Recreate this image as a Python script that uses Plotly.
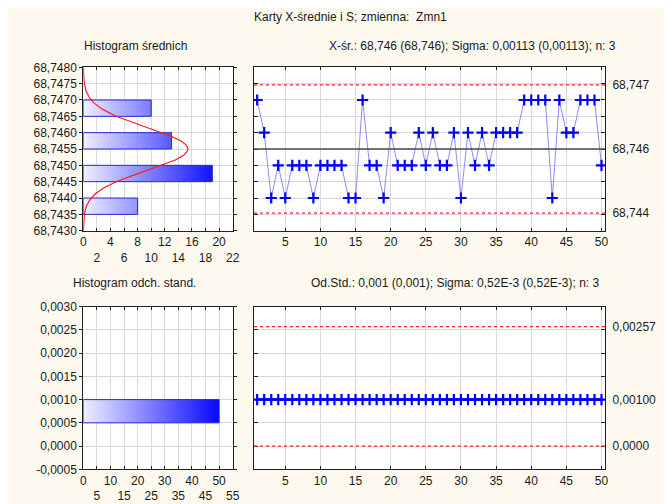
import numpy as np
import plotly.graph_objects as go

# ---------------- data ----------------
samples = list(range(1, 51))
xbar_values = [68.747, 68.746, 68.744, 68.745, 68.744, 68.745, 68.745, 68.745, 68.744, 68.745,
               68.745, 68.745, 68.745, 68.744, 68.744, 68.747, 68.745, 68.745, 68.744, 68.746,
               68.745, 68.745, 68.745, 68.746, 68.745, 68.746, 68.745, 68.745, 68.746, 68.744,
               68.746, 68.745, 68.746, 68.745, 68.746, 68.746, 68.746, 68.746, 68.747, 68.747,
               68.747, 68.747, 68.744, 68.747, 68.746, 68.746, 68.747, 68.747, 68.747, 68.745]
xbar_center = 68.7455
xbar_ucl = 68.74746
xbar_lcl = 68.74354
xbar_limit_vals = [xbar_ucl, xbar_center, xbar_lcl]
xbar_limit_text = ["68,747", "68,746", "68,744"]

sd_values = [0.001] * 50
sd_center = 0.001
sd_ucl = 0.00257
sd_lcl = 0.0
sd_limit_vals = [sd_ucl, sd_center, sd_lcl]
sd_limit_text = ["0,00257", "0,00100", "0,0000"]

mean_bin_low = [68.7435, 68.7445, 68.7455, 68.7465]
mean_bin_high = [68.7440, 68.7450, 68.7460, 68.7470]
mean_counts = [8, 19, 13, 10]

sd_bin_low = [0.0005]
sd_bin_high = [0.0010]
sd_counts = [50]

curve_mean = 68.7455
curve_sigma = 0.00066
curve_peak = 15.4

mean_y_ticks = [68.7430, 68.7435, 68.7440, 68.7445, 68.7450, 68.7455, 68.7460, 68.7465, 68.7470, 68.7475, 68.7480]
mean_y_labels = ["68,7430", "68,7435", "68,7440", "68,7445", "68,7450", "68,7455",
                 "68,7460", "68,7465", "68,7470", "68,7475", "68,7480"]
mean_x_ticks = [0, 2, 4, 6, 8, 10, 12, 14, 16, 18, 20, 22]
mean_x_labels = ["0", "<br>2", "4", "<br>6", "8", "<br>10", "12", "<br>14", "16", "<br>18", "20", "<br>22"]

sd_y_ticks = [-0.0005, 0.0, 0.0005, 0.0010, 0.0015, 0.0020, 0.0025, 0.0030]
sd_y_labels = ["-0,0005", "0,0000", "0,0005", "0,0010", "0,0015", "0,0020", "0,0025", "0,0030"]
sd_x_ticks = [0, 5, 10, 15, 20, 25, 30, 35, 40, 45, 50, 55]
sd_x_labels = ["0", "<br>5", "10", "<br>15", "20", "<br>25", "30", "<br>35", "40", "<br>45", "50", "<br>55"]

sample_ticks = [5, 10, 15, 20, 25, 30, 35, 40, 45, 50]

# ---------------- styling ----------------
W, H = 672, 504
OFF = 8  # page offset of the figure in the screenshot
BG = "#FEF9EE"
GRID = "#D9D9D9"
FONT = "Arial, 'Liberation Sans', sans-serif"
BLUE = "#0000FF"

def px_x(a, b):
    return [(a - OFF) / W, (b - OFF) / W]

def px_y(top, bottom):
    return [1 - (bottom - OFF) / H, 1 - (top - OFF) / H]

fig = go.Figure()

# --- histogram of means (bars with horizontal gradient) ---
for lo, hi, c in zip(mean_bin_low, mean_bin_high, mean_counts):
    fig.add_trace(go.Scatter(
        x=[0, c, c, 0, 0], y=[lo, lo, hi, hi, lo], mode="lines", fill="toself",
        fillgradient=dict(type="horizontal", colorscale=[[0, "#F0F0FF"], [1, "#0606FF"]],
                          start=0, stop=20),
        line=dict(color="#2626D6", width=1), xaxis="x", yaxis="y",
        hoverinfo="skip", showlegend=False))

yy = np.linspace(68.7430, 68.7480, 300)
xx = curve_peak * np.exp(-0.5 * ((yy - curve_mean) / curve_sigma) ** 2)
fig.add_trace(go.Scatter(x=xx, y=yy, mode="lines", line=dict(color="#FF1A1A", width=1.2),
                         xaxis="x", yaxis="y", showlegend=False))

# --- X-bar chart ---
fig.add_trace(go.Scatter(x=samples, y=xbar_values, mode="lines",
                         line=dict(color="rgba(70,70,255,0.7)", width=0.9),
                         xaxis="x2", yaxis="y2", showlegend=False))
fig.add_trace(go.Scatter(x=samples, y=xbar_values, mode="markers",
                         marker=dict(symbol="cross-thin", size=8,
                                     line=dict(color=BLUE, width=2.2)),
                         xaxis="x2", yaxis="y2", showlegend=False))
fig.add_trace(go.Scatter(x=[samples[0]], y=[xbar_center], mode="markers",
                         marker=dict(opacity=0), xaxis="x2", yaxis="y5",
                         showlegend=False, hoverinfo="skip"))

# --- histogram of std devs ---
for lo, hi, c in zip(sd_bin_low, sd_bin_high, sd_counts):
    fig.add_trace(go.Scatter(
        x=[0, c, c, 0, 0], y=[lo, lo, hi, hi, lo], mode="lines", fill="toself",
        fillgradient=dict(type="horizontal", colorscale=[[0, "#F0F0FF"], [1, "#0606FF"]],
                          start=0, stop=50),
        line=dict(color="#2626D6", width=1), xaxis="x3", yaxis="y3",
        hoverinfo="skip", showlegend=False))

# --- S chart ---
fig.add_trace(go.Scatter(x=samples, y=sd_values, mode="lines+markers",
                         line=dict(color=BLUE, width=2.5),
                         marker=dict(symbol="cross-thin", size=8,
                                     line=dict(color=BLUE, width=2.2)),
                         xaxis="x4", yaxis="y4", showlegend=False))
fig.add_trace(go.Scatter(x=[samples[0]], y=[sd_center], mode="markers",
                         marker=dict(opacity=0), xaxis="x4", yaxis="y6",
                         showlegend=False, hoverinfo="skip"))

# control lines
shapes = []
for xr, yr, val, col, dash, w in [
    ("x2 domain", "y2", xbar_center, "#4A4A4A", "solid", 1.5),
    ("x2 domain", "y2", xbar_ucl, "#FF2020", "dot", 1.3),
    ("x2 domain", "y2", xbar_lcl, "#FF2020", "dot", 1.3),
    ("x4 domain", "y4", sd_ucl, "#FF2020", "dot", 1.3),
    ("x4 domain", "y4", sd_lcl, "#FF2020", "dot", 1.3),
]:
    shapes.append(dict(type="line", xref=xr, yref=yr, x0=0, x1=1, y0=val, y1=val,
                       line=dict(color=col, width=w, dash=dash)))

tick_font = dict(family=FONT, size=12, color="#1A1A1A")
frame = dict(showline=True, linecolor="#202020", linewidth=1, mirror="ticks",
             gridcolor=GRID, gridwidth=1, zeroline=False, tickfont=tick_font,
             tickcolor="#202020", automargin=False)

left_dom = px_x(83.3, 232.7)
right_dom = px_x(254, 605)
top_dom = px_y(67.3, 230.7)
bot_dom = px_y(306.7, 469.3)

fig.update_layout(
    width=W, height=H, margin=dict(l=0, r=0, t=0, b=0, autoexpand=False),
    paper_bgcolor=BG, plot_bgcolor="white", font=dict(family=FONT, size=12, color="#1A1A1A"),
    showlegend=False, shapes=shapes,
    xaxis=dict(domain=left_dom, anchor="y", range=[0, 22], tickmode="array",
               tickvals=mean_x_ticks, ticktext=mean_x_labels, ticks="inside", ticklen=3,
               tickangle=0, **frame),
    yaxis=dict(domain=top_dom, anchor="x", range=[68.7430, 68.7480], tickmode="array",
               tickvals=mean_y_ticks, ticktext=mean_y_labels, ticks="outside", ticklen=3,
               **frame),
    xaxis2=dict(domain=right_dom, anchor="y2", range=[0.55, 50.5], tickmode="array",
                tickvals=sample_ticks, ticktext=[str(v) for v in sample_ticks],
                ticks="inside", ticklen=3, tickangle=0, **frame),
    yaxis2=dict(domain=top_dom, anchor="x2", range=[68.7430, 68.7480], tickmode="array",
                tickvals=mean_y_ticks, showticklabels=False, ticks="inside", ticklen=4,
                **frame),
    yaxis5=dict(overlaying="y2", anchor="x2", side="right", range=[68.7430, 68.7480],
                tickmode="array", tickvals=xbar_limit_vals, ticktext=xbar_limit_text,
                showgrid=False, zeroline=False, showline=False, ticks="outside", ticklen=4,
                tickcolor="rgba(0,0,0,0)", tickfont=tick_font, automargin=False),
    xaxis3=dict(domain=left_dom, anchor="y3", range=[0, 55], tickmode="array",
                tickvals=sd_x_ticks, ticktext=sd_x_labels, ticks="inside", ticklen=3,
                tickangle=0, **frame),
    yaxis3=dict(domain=bot_dom, anchor="x3", range=[-0.0005, 0.0030], tickmode="array",
                tickvals=sd_y_ticks, ticktext=sd_y_labels, ticks="outside", ticklen=3,
                **frame),
    xaxis4=dict(domain=right_dom, anchor="y4", range=[0.55, 50.5], tickmode="array",
                tickvals=sample_ticks, ticktext=[str(v) for v in sample_ticks],
                ticks="inside", ticklen=3, tickangle=0, **frame),
    yaxis4=dict(domain=bot_dom, anchor="x4", range=[-0.0005, 0.0030], tickmode="array",
                tickvals=sd_y_ticks, showticklabels=False, ticks="inside", ticklen=4,
                **frame),
    yaxis6=dict(overlaying="y4", anchor="x4", side="right", range=[-0.0005, 0.0030],
                tickmode="array", tickvals=sd_limit_vals, ticktext=sd_limit_text,
                showgrid=False, zeroline=False, showline=False, ticks="outside", ticklen=4,
                tickcolor="rgba(0,0,0,0)", tickfont=tick_font, automargin=False),
)

def label(text, xpx, ypx, size=12):
    fig.add_annotation(text=text, x=(xpx - OFF) / W, y=1 - (ypx - OFF) / H,
                       xref="paper", yref="paper",
                       showarrow=False, xanchor="center", yanchor="middle",
                       font=dict(family=FONT, size=size, color="#1A1A1A"))

label("Karty X-średnie i S; zmienna:  Zmn1", 350, 17)
label("Histogram średnich", 135, 46)
label("X-śr.: 68,746 (68,746); Sigma: 0,00113 (0,00113); n: 3", 472, 46)
label("Histogram odch. stand.", 134, 283)
label("Od.Std.: 0,001 (0,001); Sigma: 0,52E-3 (0,52E-3); n: 3", 455, 283)

fig.write_html("out.html")
